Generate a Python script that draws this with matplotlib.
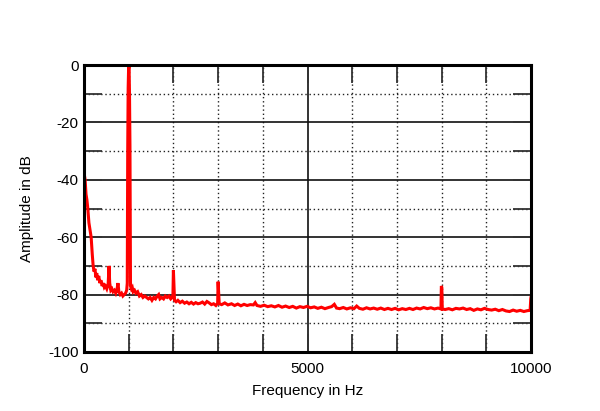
import matplotlib
matplotlib.use('Agg')
import matplotlib.pyplot as plt
from matplotlib.ticker import MultipleLocator

plt.rcParams['font.family'] = ['Liberation Sans', 'DejaVu Sans']

# Spectrum (Hz, dB)
freq_hz = [10, 25, 45, 65, 85, 110, 140, 160, 185, 205, 225, 245, 265, 285, 305, 330,
           355, 380, 405, 430, 455, 480, 510, 540, 560, 575, 600, 625, 650, 680, 710, 740,
           760, 780, 810, 840, 870, 900, 930, 955, 968, 978, 988, 998, 1008, 1018, 1028, 1040,
           1060, 1080, 1100, 1130, 1160, 1200, 1240, 1280, 1320, 1360, 1400, 1440, 1480,
           1520, 1560, 1600, 1640, 1670, 1700, 1740, 1780, 1820, 1860, 1900, 1940, 1975,
           1990, 2000, 2010, 2025, 2060, 2100, 2150, 2200, 2250, 2300, 2350, 2400, 2450,
           2500, 2550, 2600, 2650, 2700, 2750, 2800, 2850, 2900, 2950, 2990, 3000, 3012,
           3025, 3080, 3150, 3220, 3300, 3370, 3440, 3510, 3580, 3650, 3720, 3790, 3830,
           3870, 3950, 4030, 4110, 4190, 4270, 4350, 4430, 4510, 4590, 4670, 4750, 4830,
           4910, 4990, 5070, 5150, 5230, 5310, 5390, 5470, 5540, 5600, 5650, 5720, 5800,
           5880, 5960, 6040, 6100, 6160, 6240, 6320, 6400, 6480, 6560, 6640, 6720, 6800,
           6880, 6960, 7040, 7120, 7200, 7280, 7360, 7440, 7520, 7600, 7680, 7760, 7840,
           7920, 7985, 7995, 8005, 8015, 8080, 8160, 8240, 8320, 8400, 8480, 8560, 8640,
           8720, 8800, 8880, 8960, 9040, 9120, 9200, 9280, 9360, 9440, 9520, 9600, 9680,
           9760, 9840, 9920, 9980, 9995, 10000]
level_db = [-38.5, -40, -45, -47, -50, -55, -58, -60, -66, -70, -72, -71, -74, -72.5, -75, -73.5,
            -76, -75, -77, -76, -77.5, -77, -78, -76.5, -70, -76, -78.5, -78, -79, -78.5, -79.5, -78,
            -76, -79, -80, -79.5, -80.5, -80, -79.5, -78.5, -76, -30, -8, -1, -0.5, -10, -28, -77,
            -78, -77.5, -79, -78.5, -79.5, -79, -80.5, -80, -81, -80.5, -81, -81.5, -81,
            -82, -81, -81.5, -80.5, -80, -81.5, -81, -81.5, -80.5, -81, -80.5, -81.5, -81,
            -80, -71.5, -76, -82, -82.5, -82, -82.8, -82.3, -83, -82.6, -83.2, -82.7, -83.3,
            -82.8, -83.2, -83, -82.6, -83.3, -82.4, -82.9, -83.5, -83.2, -83.8, -83, -75.5, -79,
            -83.2, -83.5, -82.9, -83.6, -83.2, -83.8, -83.3, -83.9, -83.4, -83.8, -83.5, -83.6, -82.8,
            -83.8, -84.1, -83.7, -84.2, -83.9, -84.3, -83.8, -84.4, -84, -84.5, -84.1, -84.7, -84.2,
            -84.5, -84.1, -84.6, -84.3, -84.8, -84.4, -84.9, -84.5, -84.2, -83.4, -84.7, -84.9, -84.5,
            -85, -84.6, -84.9, -84, -84.8, -85.1, -84.6, -85, -84.7, -85.1, -84.7, -85.2, -84.8,
            -85.2, -84.8, -85.3, -84.9, -85.2, -84.8, -85.2, -84.7, -85, -84.5, -84.9, -84.6, -85,
            -84.7, -85, -77, -77.5, -85, -85.2, -84.9, -85.3, -84.8, -85, -84.7, -85.2, -84.9,
            -85.5, -85, -85.3, -84.8, -85.2, -85.4, -85.1, -85.6, -85.2, -85.7, -85.9, -85.4, -85.8,
            -85.5, -85.9, -85.6, -85.5, -81.5, -81]

x_ticks = [0, 5000, 10000]
x_labels = ['0', '5000', '10000']
y_ticks = [-100, -80, -60, -40, -20, 0]
y_labels = ['-100', '-80', '-60', '-40', '-20', '0']

fig = plt.figure(figsize=(6, 4.11), dpi=100)
ax = fig.add_axes([0.14, 0.1436, 0.745, 0.6982])

ax.plot(freq_hz, level_db, color='#ff0000', linewidth=2.2, solid_joinstyle='miter', zorder=3)

ax.set_xlim(0, 10000)
ax.set_ylim(-100, 0)
ax.set_xticks(x_ticks)
ax.set_xticklabels(x_labels)
ax.set_yticks(y_ticks)
ax.set_yticklabels(y_labels)
ax.xaxis.set_minor_locator(MultipleLocator(1000))
ax.yaxis.set_minor_locator(MultipleLocator(10))
ax.set_axisbelow(True)

# grid: solid on the major lines, dotted on the minor ones
ax.grid(which='major', color='#111111', linestyle='-', linewidth=1.2)
ax.grid(which='minor', color='#222222', linestyle=(0, (1, 2)), linewidth=1.0)

ax.tick_params(which='both', direction='in', top=True, right=True, length=13, width=1.3,
               color='#333333', labelsize=11)
ax.tick_params(axis='x', which='major', pad=7)
ax.tick_params(axis='y', which='major', pad=4)

for s in ax.spines.values():
    s.set_linewidth(2.2)
    s.set_color('black')
    s.set_zorder(4)

ax.set_xlabel('Frequency in Hz', fontsize=11, labelpad=6)
ax.set_ylabel('Amplitude in dB', fontsize=11, labelpad=10)

fig.savefig('out.png', dpi=100)
